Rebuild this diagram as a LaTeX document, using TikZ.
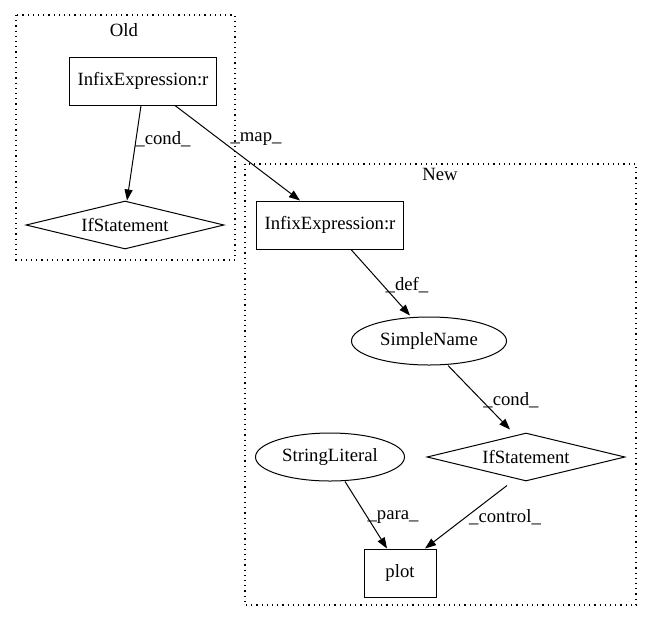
\documentclass[tikz,border=0pt]{standalone}
\usepackage{fontspec}
\setmainfont{Liberation Serif}
\usetikzlibrary{shapes.geometric,arrows.meta,calc}
\begin{document}
\begin{tikzpicture}[x=1pt,y=-1pt,
  every node/.style={font=\fontsize{18.7pt}{21pt}\selectfont},
  box/.style={draw,line width=1pt,rectangle,minimum width=147pt,minimum height=48pt,inner sep=0pt},
  ell/.style={draw,line width=1pt,ellipse,minimum width=155pt,minimum height=48pt,inner sep=0pt},
  dia/.style={draw,line width=1pt,diamond,minimum width=198pt,minimum height=48pt,inner sep=0pt,aspect=4},
  cluster/.style={draw,line width=1.1pt,dash pattern=on 1.2pt off 4pt},
  edge/.style={line width=1pt,-{Triangle[length=11pt,width=8pt]}},
  lbl/.style={inner sep=0pt}]
\useasboundingbox (0,0) rectangle (652,624);
% clusters
\draw[cluster] (16,15) rectangle (235,260);
\node[lbl] (oldlbl) at (124,30) {Old};
\draw[cluster] (245,164) rectangle (636,605);
\node[lbl] (newlbl) at (440,174) {New};
% nodes
\node[box] (oi) at (143,81) {InfixExpression:r};
\node[dia] (oif) at (125,225) {IfStatement};
\node[box] (ni) at (330,225) {InfixExpression:r};
\node[ell] (sn) at (429,341) {SimpleName};
\node[dia] (nif) at (526,457) {IfStatement};
\node[ell,minimum width=149pt] (sl) at (330,457) {StringLiteral};
\node[box,minimum width=72pt] (pl) at (400,573) {plot};
% edges
\draw[edge] ([xshift=-2pt]oi.south) -- ([xshift=2pt]oif.north);
\draw[edge] ([xshift=32pt]oi.south) -- ([xshift=-30pt]ni.north);
\draw[edge] ([xshift=21pt]ni.south) -- ([xshift=-19pt,yshift=1pt]sn.north);
\draw[edge] ([xshift=19pt]sn.south) -- ([xshift=-16pt,yshift=3pt]nif.north);
\draw[edge] ([xshift=15pt]sl.south) -- ([xshift=-13pt]pl.north);
\draw[edge] ([xshift=-19pt,yshift=-4pt]nif.south) -- ([xshift=25pt]pl.north);
% edge labels
\node[lbl] (l1) at (163,139) {\_cond\_};
\node[lbl] (l2) at (256,139) {\_map\_};
\node[lbl] (l3) at (407,285) {\_def\_};
\node[lbl] (l4) at (511,400) {\_cond\_};
\node[lbl] (l5) at (393,517) {\_para\_};
\node[lbl] (l6) at (505,517) {\_control\_};
\end{tikzpicture}
\end{document}
